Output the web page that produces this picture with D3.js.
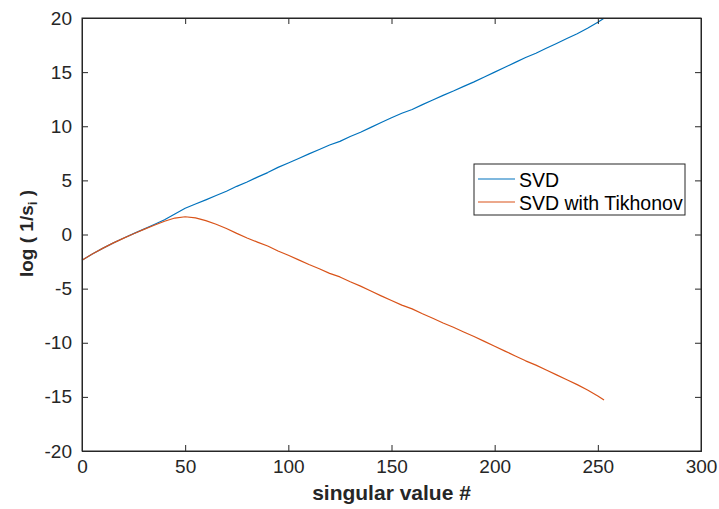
<!DOCTYPE html>
<html>
<head>
<meta charset="utf-8">
<script src="https://cdn.jsdelivr.net/npm/d3@7"></script>
<style>
  body { margin: 0; background: #fff; }
  svg { display: block; }
  text { font-family: "Liberation Sans", Arial, Helvetica, sans-serif; }
</style>
</head>
<body>
<svg id="chart" width="719" height="509"></svg>
<script>
// Singular value index (sampled)
const indices = [0,5,10,15,20,25,30,35,40,45,50,55,60,65,70,75,80,85,90,95,100,105,110,115,120,125,130,135,140,145,150,155,160,165,170,175,180,185,190,195,200,205,210,215,220,225,230,235,240,245,250,253];
// log(1/s_i) — plain SVD
const svdValues = [-2.38,-1.80,-1.28,-0.80,-0.35,0.08,0.50,0.93,1.37,1.90,2.42,2.82,3.20,3.60,4.00,4.45,4.85,5.30,5.72,6.20,6.60,7.02,7.45,7.85,8.27,8.60,9.05,9.45,9.90,10.35,10.78,11.20,11.55,12.00,12.42,12.85,13.25,13.68,14.10,14.55,15.00,15.45,15.90,16.35,16.75,17.20,17.65,18.10,18.55,19.05,19.60,19.97];
// log(1/s_i) — SVD with Tikhonov regularisation
const tikValues = [-2.38,-1.80,-1.28,-0.80,-0.36,0.07,0.47,0.86,1.22,1.52,1.64,1.53,1.28,0.95,0.55,0.10,-0.32,-0.70,-1.06,-1.52,-1.92,-2.34,-2.77,-3.17,-3.59,-3.92,-4.37,-4.77,-5.22,-5.67,-6.10,-6.52,-6.87,-7.32,-7.74,-8.17,-8.57,-9.00,-9.42,-9.87,-10.32,-10.77,-11.22,-11.67,-12.07,-12.52,-12.97,-13.42,-13.87,-14.37,-14.92,-15.29];
const seriesNames = ["SVD", "SVD with Tikhonov"];
const seriesColors = ["#0072BD", "#D95319"];
const xTicks = [0,50,100,150,200,250,300];
const yTicks = [-20,-15,-10,-5,0,5,10,15,20];

const svg = d3.select("#chart");
const pL = 82, pR = 701, pT = 18, pB = 451;
const x = d3.scaleLinear().domain([0,300]).range([pL,pR]);
const y = d3.scaleLinear().domain([-20,20]).range([pB,pT]);
const axisColor = "#262626";
const tickLen = 6;
const fmt = d => String(d);

// box
svg.append("rect").attr("x",pL).attr("y",pT).attr("width",pR-pL).attr("height",pB-pT)
  .attr("fill","#fff").attr("stroke",axisColor).attr("stroke-width",1);

// lines
const series = [svdValues, tikValues];
const line = d3.line().x((d,i)=>x(indices[i])).y(d=>y(d));
series.forEach((vals,k)=>{
  svg.append("path").datum(vals).attr("d",line)
    .attr("fill","none").attr("stroke",seriesColors[k]).attr("stroke-width",1.2)
    .attr("stroke-linejoin","round");
});

// axes (ticks inward on all sides)
const gB = svg.append("g").attr("transform",`translate(0,${pB})`)
  .call(d3.axisBottom(x).tickValues(xTicks).tickSize(-tickLen).tickPadding(9).tickFormat(fmt));
const gT = svg.append("g").attr("transform",`translate(0,${pT})`)
  .call(d3.axisTop(x).tickValues(xTicks).tickSize(-tickLen).tickFormat(""));
const gL = svg.append("g").attr("transform",`translate(${pL},0)`)
  .call(d3.axisLeft(y).tickValues(yTicks).tickSize(-tickLen).tickPadding(10).tickFormat(fmt));
const gR = svg.append("g").attr("transform",`translate(${pR},0)`)
  .call(d3.axisRight(y).tickValues(yTicks).tickSize(-tickLen).tickFormat(""));
[gB,gT,gL,gR].forEach(g=>{
  g.select(".domain").attr("stroke",axisColor);
  g.selectAll(".tick line").attr("stroke",axisColor);
  g.selectAll(".tick text").attr("fill",axisColor).style("font-size","19px")
    .style("font-family","'Liberation Sans', Arial, sans-serif");
});
gB.selectAll(".tick text").attr("dy","0.71em");

// axis labels
svg.append("text").attr("x",(pL+pR)/2).attr("y",500).attr("text-anchor","middle")
  .attr("fill",axisColor).style("font-size","21px").style("font-weight","bold").text("singular value #");
const yl = svg.append("text").attr("transform",`translate(33,233.5) rotate(-90)`)
  .attr("text-anchor","middle").attr("fill",axisColor).style("font-size","19px").style("font-weight","bold");
yl.append("tspan").text("log ( 1/s");
yl.append("tspan").attr("baseline-shift","-30%").style("font-size","13px").text("i");
yl.append("tspan").text(" )");

// legend
const lg = svg.append("g");
lg.append("rect").attr("x",474).attr("y",164).attr("width",211).attr("height",51)
  .attr("fill","#fff").attr("stroke",axisColor).attr("stroke-width",1);
seriesNames.forEach((name,k)=>{
  const yy = 179 + k*23;
  lg.append("line").attr("x1",478).attr("x2",515).attr("y1",yy).attr("y2",yy)
    .attr("stroke",seriesColors[k]).attr("stroke-width",1.2);
  lg.append("text").attr("x",519).attr("y",yy+8).attr("fill","#000")
    .style("font-size","19.5px").text(name);
});
</script>
</body>
</html>
